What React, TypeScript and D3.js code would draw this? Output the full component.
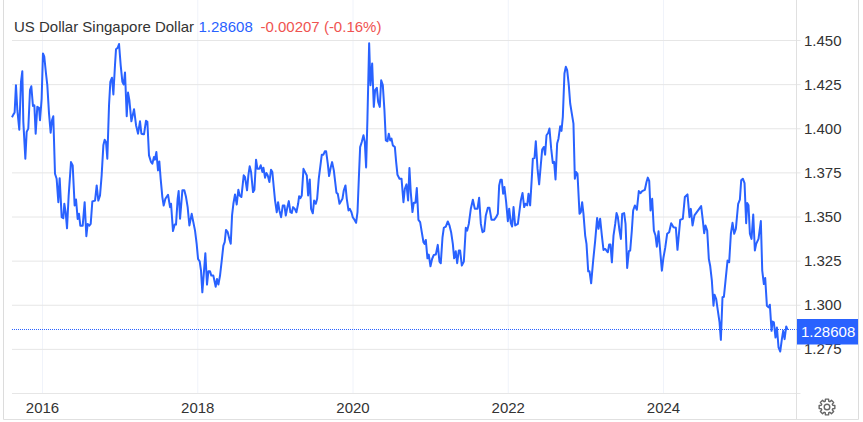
import React from "react";
import * as d3 from "d3";

const yearTicks = [2016, 2018, 2020, 2022, 2024];
const priceTicks = [1.45, 1.425, 1.4, 1.375, 1.35, 1.325, 1.3, 1.275];
const bottomPrice = 1.25;
const title = "US Dollar Singapore Dollar";
const lastPrice = 1.28608;
const lastText = "1.28608";
const changeText = "-0.00207 (-0.16%)";

const dates = [
  2015.607,2015.624,2015.641,2015.658,2015.676,2015.701,2015.723,2015.740,2015.753,2015.779,2015.796,2015.817,2015.839,2015.856,2015.877,2015.895,2015.912,2015.933,2015.955,2015.968,2015.989,
  2016.006,2016.023,2016.045,2016.062,2016.084,2016.105,2016.122,2016.139,2016.161,2016.182,2016.204,2016.221,2016.247,2016.268,2016.281,2016.298,2016.316,2016.337,2016.367,2016.389,2016.414,2016.432,2016.453,2016.470,2016.487,2016.518,2016.543,2016.565,2016.582,2016.603,2016.621,2016.642,2016.677,2016.698,2016.719,2016.741,2016.762,2016.784,2016.801,2016.818,2016.835,2016.857,2016.874,2016.895,2016.913,2016.934,2016.947,2016.969,2016.986,
  2017.007,2017.029,2017.046,2017.063,2017.085,2017.102,2017.119,2017.145,2017.179,2017.205,2017.231,2017.256,2017.274,2017.299,2017.308,2017.333,2017.351,2017.372,2017.398,2017.415,2017.436,2017.449,2017.467,2017.488,2017.505,2017.522,2017.544,2017.561,2017.583,2017.617,2017.643,2017.656,2017.681,2017.703,2017.720,2017.741,2017.754,2017.772,2017.802,2017.827,2017.849,2017.870,2017.892,2017.922,2017.943,2017.965,2017.986,
  2018.004,2018.025,2018.042,2018.059,2018.081,2018.098,2018.119,2018.137,2018.158,2018.175,2018.201,2018.231,2018.248,2018.266,2018.287,2018.309,2018.330,2018.347,2018.364,2018.386,2018.407,2018.425,2018.442,2018.459,2018.480,2018.502,2018.523,2018.540,2018.562,2018.592,2018.609,2018.635,2018.652,2018.669,2018.687,2018.712,2018.730,2018.751,2018.768,2018.794,2018.811,2018.833,2018.846,2018.867,2018.884,2018.901,2018.923,2018.944,2018.961,2018.979,2018.996,
  2019.018,2019.035,2019.052,2019.074,2019.095,2019.117,2019.134,2019.155,2019.173,2019.194,2019.211,2019.228,2019.250,2019.271,2019.293,2019.306,2019.323,2019.340,2019.362,2019.383,2019.405,2019.422,2019.443,2019.460,2019.482,2019.499,2019.521,2019.538,2019.559,2019.598,2019.619,2019.637,2019.654,2019.675,2019.692,2019.714,2019.731,2019.753,2019.787,2019.804,2019.826,2019.843,2019.864,2019.881,2019.903,2019.920,2019.942,2019.959,2019.980,2019.997,
  2020.019,2020.040,2020.058,2020.075,2020.092,2020.113,2020.135,2020.152,2020.169,2020.186,2020.208,2020.225,2020.247,2020.268,2020.285,2020.307,2020.324,2020.345,2020.363,2020.384,2020.405,2020.423,2020.444,2020.461,2020.479,2020.496,2020.513,2020.539,2020.556,2020.573,2020.599,2020.625,2020.650,2020.668,2020.689,2020.710,2020.727,2020.744,2020.766,2020.783,2020.805,2020.822,2020.843,2020.865,2020.886,2020.908,2020.921,2020.938,2020.959,2020.976,2020.998,
  2021.019,2021.041,2021.067,2021.092,2021.114,2021.131,2021.153,2021.170,2021.196,2021.221,2021.243,2021.264,2021.286,2021.303,2021.324,2021.342,2021.363,2021.380,2021.402,2021.428,2021.453,2021.471,2021.492,2021.518,2021.544,2021.569,2021.604,2021.625,2021.647,2021.668,2021.690,2021.711,2021.737,2021.758,2021.784,2021.818,2021.844,2021.866,2021.883,2021.900,2021.917,2021.934,2021.951,2021.973,2021.995,
  2022.012,2022.033,2022.050,2022.068,2022.089,2022.124,2022.162,2022.184,2022.205,2022.222,2022.244,2022.261,2022.282,2022.304,2022.317,2022.338,2022.355,2022.377,2022.398,2022.419,2022.437,2022.458,2022.475,2022.493,2022.514,2022.531,2022.553,2022.574,2022.591,2022.609,2022.630,2022.647,2022.669,2022.686,2022.703,2022.724,2022.742,2022.759,2022.780,2022.798,2022.819,2022.840,2022.858,2022.875,2022.892,2022.918,2022.935,2022.952,2022.969,2022.991,
  2023.008,2023.030,2023.047,2023.068,2023.094,2023.120,2023.145,2023.163,2023.184,2023.206,2023.227,2023.249,2023.266,2023.283,2023.300,2023.317,2023.335,2023.356,2023.378,2023.395,2023.412,2023.433,2023.451,2023.468,2023.493,2023.511,2023.532,2023.554,2023.571,2023.592,2023.609,2023.631,2023.657,2023.682,2023.704,2023.725,2023.760,2023.781,2023.798,2023.816,2023.833,2023.854,2023.876,2023.897,2023.914,2023.936,2023.957,2023.979,
  2024.000,2024.022,2024.047,2024.073,2024.099,2024.129,2024.159,2024.180,2024.215,2024.249,2024.275,2024.309,2024.335,2024.352,2024.374,2024.399,2024.485,2024.507,2024.524,2024.541,2024.563,2024.584,2024.601,2024.623,2024.644,2024.657,2024.679,2024.700,2024.722,2024.739,2024.760,2024.778,2024.799,2024.825,2024.846,2024.868,2024.889,2024.911,2024.932,2024.962,2024.984,
  2025.001,2025.022,2025.044,2025.065,2025.078,2025.095,2025.113,2025.134,2025.156,2025.177,2025.194,2025.224,2025.254,2025.272,2025.293,2025.310,2025.332,2025.353,2025.370,2025.392,2025.405,2025.422,2025.443,2025.461,2025.482,2025.504,2025.525,2025.542,2025.560,2025.581,2025.598,
];

const rates = [
  1.4065,1.4080,1.4092,1.4247,1.4105,1.3995,1.4266,1.4326,1.4039,1.3830,1.3982,1.4001,1.4219,1.4241,1.4129,1.4133,1.3972,1.4124,1.4118,1.4048,1.4171,
  1.4427,1.4408,1.4313,1.4247,1.4086,1.3978,1.4048,1.4071,1.3745,1.3717,1.3584,1.3720,1.3499,1.3493,1.3575,1.3527,1.3436,1.3622,1.3811,1.3792,1.3565,1.3599,1.3489,1.3518,1.3451,1.3451,1.3584,1.3391,1.3461,1.3451,1.3461,1.3588,1.3593,1.3679,1.3593,1.3622,1.3736,1.3906,1.3938,1.3925,1.3830,1.4133,1.4266,1.4289,1.4194,1.4361,1.4451,1.4459,1.4480,
  1.4361,1.4266,1.4251,1.4319,1.4071,1.4205,1.4162,1.4042,1.4111,1.4020,1.3972,1.4042,1.3972,1.3969,1.3969,1.4045,1.4039,1.3849,1.3812,1.3802,1.3840,1.3825,1.3868,1.3764,1.3815,1.3717,1.3613,1.3565,1.3603,1.3626,1.3556,1.3575,1.3420,1.3457,1.3457,1.3603,1.3647,1.3490,1.3651,1.3651,1.3613,1.3556,1.3452,1.3518,1.3471,1.3423,1.3348,
  1.3262,1.3249,1.3196,1.3073,1.3196,1.3295,1.3117,1.3192,1.3192,1.3168,1.3168,1.3105,1.3149,1.3117,1.3168,1.3253,1.3338,1.3357,1.3427,1.3414,1.3376,1.3348,1.3509,1.3575,1.3628,1.3571,1.3654,1.3622,1.3613,1.3736,1.3726,1.3651,1.3736,1.3787,1.3755,1.3641,1.3654,1.3825,1.3774,1.3774,1.3793,1.3755,1.3779,1.3723,1.3749,1.3736,1.3698,1.3768,1.3755,1.3670,1.3593,
  1.3527,1.3584,1.3537,1.3499,1.3565,1.3565,1.3508,1.3556,1.3590,1.3527,1.3523,1.3556,1.3546,1.3527,1.3575,1.3618,1.3607,1.3622,1.3773,1.3754,1.3735,1.3622,1.3713,1.3546,1.3521,1.3593,1.3575,1.3603,1.3717,1.3853,1.3853,1.3872,1.3872,1.3802,1.3732,1.3783,1.3811,1.3764,1.3637,1.3631,1.3575,1.3588,1.3603,1.3650,1.3679,1.3603,1.3537,1.3546,1.3527,1.3499,
  1.3484,1.3467,1.3527,1.3717,1.3896,1.3925,1.3963,1.3925,1.3781,1.4058,1.4484,1.4247,1.4370,1.4124,1.4219,1.4232,1.4152,1.4124,1.4275,1.4247,1.4105,1.3934,1.3929,1.3972,1.3934,1.3944,1.3906,1.3897,1.3811,1.3739,1.3717,1.3717,1.3584,1.3660,1.3685,1.3594,1.3778,1.3641,1.3528,1.3581,1.3581,1.3664,1.3484,1.3471,1.3414,1.3357,1.3348,1.3370,1.3266,1.3287,1.3221,
  1.3262,1.3285,1.3287,1.3342,1.3247,1.3238,1.3385,1.3439,1.3446,1.3475,1.3452,1.3414,1.3348,1.3266,1.3306,1.3238,1.3310,1.3310,1.3225,1.3247,1.3439,1.3423,1.3461,1.3547,1.3598,1.3547,1.3547,1.3609,1.3461,1.3414,1.3420,1.3509,1.3552,1.3552,1.3484,1.3484,1.3499,1.3518,1.3679,1.3711,1.3711,1.3632,1.3670,1.3584,1.3476,
  1.3547,1.3465,1.3446,1.3556,1.3452,1.3461,1.3594,1.3636,1.3556,1.3575,1.3566,1.3632,1.3566,1.3726,1.3831,1.3834,1.3929,1.3774,1.3685,1.3793,1.3882,1.3897,1.3853,1.3963,1.3976,1.4001,1.3887,1.3806,1.3812,1.3713,1.3916,1.3944,1.4014,1.3988,1.4067,1.4313,1.4351,1.4332,1.4247,1.4143,1.4086,1.4029,1.3717,1.3755,1.3745,1.3518,1.3527,1.3584,1.3518,1.3395,
  1.3348,1.3192,1.3192,1.3124,1.3253,1.3366,1.3495,1.3433,1.3490,1.3395,1.3313,1.3319,1.3310,1.3300,1.3344,1.3344,1.3243,1.3395,1.3461,1.3522,1.3499,1.3423,1.3376,1.3518,1.3522,1.3461,1.3211,1.3306,1.3310,1.3423,1.3537,1.3565,1.3541,1.3647,1.3635,1.3647,1.3654,1.3698,1.3723,1.3704,1.3537,1.3603,1.3423,1.3395,1.3332,1.3419,1.3310,1.3196,
  1.3272,1.3325,1.3405,1.3414,1.3465,1.3442,1.3439,1.3314,1.3484,1.3490,1.3613,1.3628,1.3499,1.3546,1.3452,1.3509,1.3562,1.3480,1.3408,1.3452,1.3423,1.3262,1.3224,1.3139,1.2997,1.3060,1.3035,1.2969,1.2903,1.2804,1.3045,1.3048,1.3139,1.3253,1.3244,1.3405,1.3467,1.3405,1.3433,1.3575,1.3598,
  1.3708,1.3717,1.3692,1.3465,1.3579,1.3566,1.3405,1.3376,1.3514,1.3310,1.3348,1.3376,1.3477,1.3196,1.3120,1.3155,1.2997,1.2988,1.3003,1.2855,1.2908,1.2903,1.2817,1.2874,1.2761,1.2738,1.2808,1.2855,1.2808,1.2880,1.2860,
];

const W = 863;
const H = 422;
const font = "'Liberation Sans', Arial, sans-serif";
const plotLeft = 12;
const axisX = 796.5;
const frameRight = 858.5;
const frameBottom = 419.5;
const blue = "#2962ff";

const x = d3.scaleLinear().domain([2016, 2024]).range([42.5, 663.5]);
const y = d3.scaleLinear().domain([1.45, 1.25]).range([40.5, 393.5]);

const gearPath = (cx: number, cy: number) => {
  const teeth = 8;
  const pts: [number, number][] = [];
  for (let i = 0; i < teeth; i++) {
    const a = (i / teeth) * 2 * Math.PI;
    const w = Math.PI / teeth;
    [
      [a - w * 0.5, 8],
      [a + w * 0.5, 8],
      [a + w * 0.75, 6],
      [a + w * 1.25, 6],
    ].forEach(([t, r]) => pts.push([cx + r * Math.cos(t), cy + r * Math.sin(t)]));
  }
  return d3.line().curve(d3.curveLinearClosed)(pts) ?? "";
};

export default function App() {
  const linePath =
    d3
      .line<number>()
      .x((_, i) => x(dates[i]))
      .y((d) => y(d))(rates) ?? "";
  const lastY = Math.floor(y(lastPrice)) + 0.5;

  return (
    <svg
      width={W}
      height={H}
      viewBox={`0 0 ${W} ${H}`}
      style={{ position: "absolute", left: 0, top: 0, background: "#fff", fontFamily: font }}
    >
      {yearTicks.map((t) => (
        <line key={t} x1={x(t)} x2={x(t)} y1={0} y2={y(bottomPrice)} stroke="#f0f3fa" />
      ))}
      {[...priceTicks, bottomPrice].map((t) => (
        <line key={t} x1={plotLeft} x2={axisX + 4} y1={y(t)} y2={y(t)} stroke="#e6e6e6" />
      ))}
      <line x1={3.5} x2={3.5} y1={0} y2={frameBottom} stroke="#dcdcdc" />
      <line x1={axisX} x2={axisX} y1={0} y2={frameBottom} stroke="#e0e0e0" />
      <line x1={frameRight} x2={frameRight} y1={0} y2={frameBottom} stroke="#dcdcdc" />
      <line x1={3.5} x2={frameRight} y1={frameBottom} y2={frameBottom} stroke="#e0e0e0" />

      <line x1={plotLeft} x2={axisX} y1={lastY} y2={lastY} stroke={blue} strokeDasharray="1 1" />
      <path d={linePath} fill="none" stroke={blue} strokeWidth={2} strokeLinejoin="round" />

      {priceTicks.map((t) => (
        <text key={t} x={804} y={y(t) + 5} fontSize={15} fill="#333">
          {t.toFixed(3)}
        </text>
      ))}
      {yearTicks.map((t) => (
        <text key={t} x={x(t)} y={413} fontSize={15} fill="#333" textAnchor="middle">
          {t}
        </text>
      ))}

      <rect x={797} y={319} width={61} height={25.5} fill={blue} />
      <text x={801} y={337} fontSize={15} fill="#fff">
        {lastText}
      </text>

      <text x={14} y={32} fontSize={15} fill="#333">
        {title}
      </text>
      <text x={198.5} y={32} fontSize={15} fill={blue}>
        {lastText}
      </text>
      <text x={260.5} y={32} fontSize={15} fill="#ef5350">
        {changeText}
      </text>

      <path d={gearPath(827, 407)} fill="none" stroke="#666" strokeWidth={1.4} strokeLinejoin="round" />
      <circle cx={827} cy={407} r={2.8} fill="none" stroke="#666" strokeWidth={1.4} />
    </svg>
  );
}
